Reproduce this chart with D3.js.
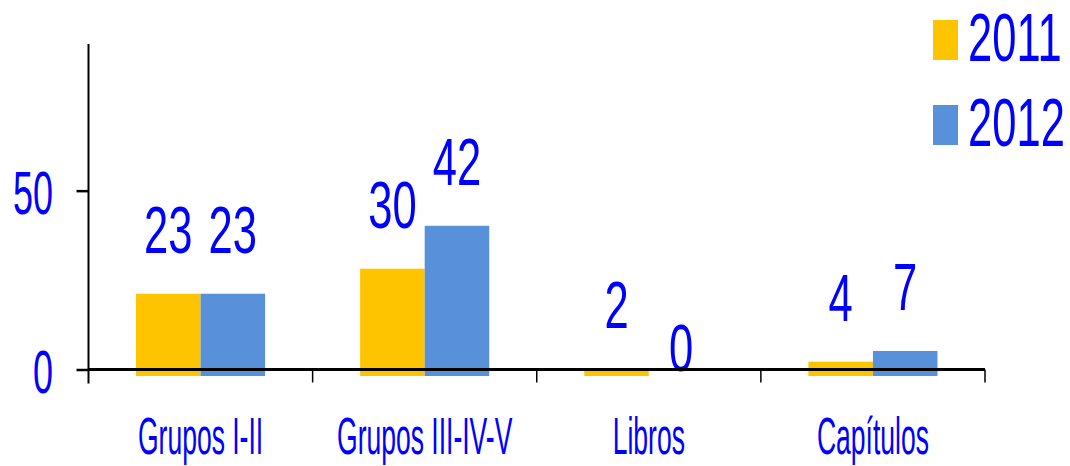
<!DOCTYPE html>
<html>
<head>
<meta charset="utf-8">
<script src="https://cdn.jsdelivr.net/npm/d3@7"></script>
<style>
  html, body { margin: 0; padding: 0; background: #fff; }
  svg { display: block; }
  text { font-family: "Liberation Sans", Arial, sans-serif; fill: #0000ff; }
</style>
</head>
<body>
<div id="chart"></div>
<script>
const categories = ['Grupos I-II', 'Grupos III-IV-V', 'Libros', 'Capítulos'];
const seriesNames = ['2011', '2012'];
const values2011 = [23, 30, 2, 4];
const values2012 = [23, 42, 0, 7];
const yTicks = [0, 50];
const yMax = 91;

const colors = ['#ffc400', '#5891da'];
const series = [values2011, values2012];

const width = 1070;
const height = 466;
const margin = { top: 44, left: 88.5, right: 85, zero: 369.5 };

const svg = d3.select('#chart')
  .append('svg')
  .attr('width', width)
  .attr('height', height);

const x = d3.scaleBand()
  .domain(categories)
  .range([margin.left, width - margin.right])
  .paddingInner(0.424)
  .paddingOuter(0.212);

const xSeries = d3.scaleBand()
  .domain(seriesNames)
  .range([0, x.bandwidth()]);

const y = d3.scaleLinear()
  .domain([0, yMax])
  .range([margin.zero, margin.top]);

// bars sit a few pixels below the axis line, as in the original
const barDrop = 6.5;

const groups = svg.append('g')
  .selectAll('g')
  .data(categories)
  .join('g')
  .attr('transform', d => `translate(${x(d)},0)`);

groups.selectAll('rect')
  .data((d, i) => series.map((s, j) => ({ name: seriesNames[j], value: s[i], j })))
  .join('rect')
  .attr('x', d => xSeries(d.name))
  .attr('y', d => y(d.value) + barDrop)
  .attr('width', xSeries.bandwidth())
  .attr('height', d => y(0) - y(d.value))
  .attr('fill', d => colors[d.j]);

// value labels
groups.selectAll('text')
  .data((d, i) => series.map((s, j) => ({ name: seriesNames[j], value: s[i] })))
  .join('text')
  .attr('text-anchor', 'middle')
  .attr('font-size', 66)
  .attr('transform', d => {
    const cx = xSeries(d.name) + xSeries.bandwidth() / 2;
    const by = d.value === 0 ? y(0) + 1 : y(d.value) - 34;
    return `translate(${cx},${by}) scale(0.66,1)`;
  })
  .text(d => d.value);

// x baseline and category separators
const step = x.step();
const x0 = x.range()[0];
svg.append('line')
  .attr('x1', x0).attr('x2', x.range()[1])
  .attr('y1', y(0)).attr('y2', y(0))
  .attr('stroke', '#000').attr('stroke-width', 3);

svg.append('g')
  .selectAll('line')
  .data(d3.range(1, categories.length + 1))
  .join('line')
  .attr('x1', i => x0 + i * step).attr('x2', i => x0 + i * step)
  .attr('y1', y(0)).attr('y2', y(0) + 13)
  .attr('stroke', '#000').attr('stroke-width', 1.5);

// category labels
svg.append('g')
  .selectAll('text')
  .data(categories)
  .join('text')
  .attr('text-anchor', 'middle')
  .attr('font-size', 51)
  .attr('transform', d => `translate(${x(d) + x.bandwidth() / 2},454) scale(0.52,1)`)
  .text(d => d);

// y axis
const yAxis = svg.append('g')
  .attr('transform', `translate(${margin.left},0)`)
  .call(d3.axisLeft(y).tickValues(yTicks).tickSize(12).tickSizeOuter(0));

yAxis.select('.domain').remove();
yAxis.selectAll('.tick line').attr('stroke', '#000').attr('stroke-width', 2.5);
yAxis.selectAll('.tick text')
  .attr('x', 0)
  .attr('dy', null)
  .attr('font-size', 62)
  .attr('font-family', '"Liberation Sans", Arial, sans-serif')
  .attr('fill', '#0000ff')
  .attr('transform', 'translate(-35.5,22.5) scale(0.58,1)');

svg.append('line')
  .attr('x1', margin.left).attr('x2', margin.left)
  .attr('y1', y(yMax)).attr('y2', y(0) + 14)
  .attr('stroke', '#000').attr('stroke-width', 2);

// legend
const legend = svg.append('g')
  .selectAll('g')
  .data(seriesNames)
  .join('g')
  .attr('transform', (d, i) => `translate(933,${20 + i * 85})`);

legend.append('rect')
  .attr('width', 25)
  .attr('height', 40)
  .attr('fill', (d, i) => colors[i]);

legend.append('text')
  .attr('font-size', 66)
  .attr('transform', 'translate(35,41) scale(0.66,1.03)')
  .text(d => d);
</script>
</body>
</html>
